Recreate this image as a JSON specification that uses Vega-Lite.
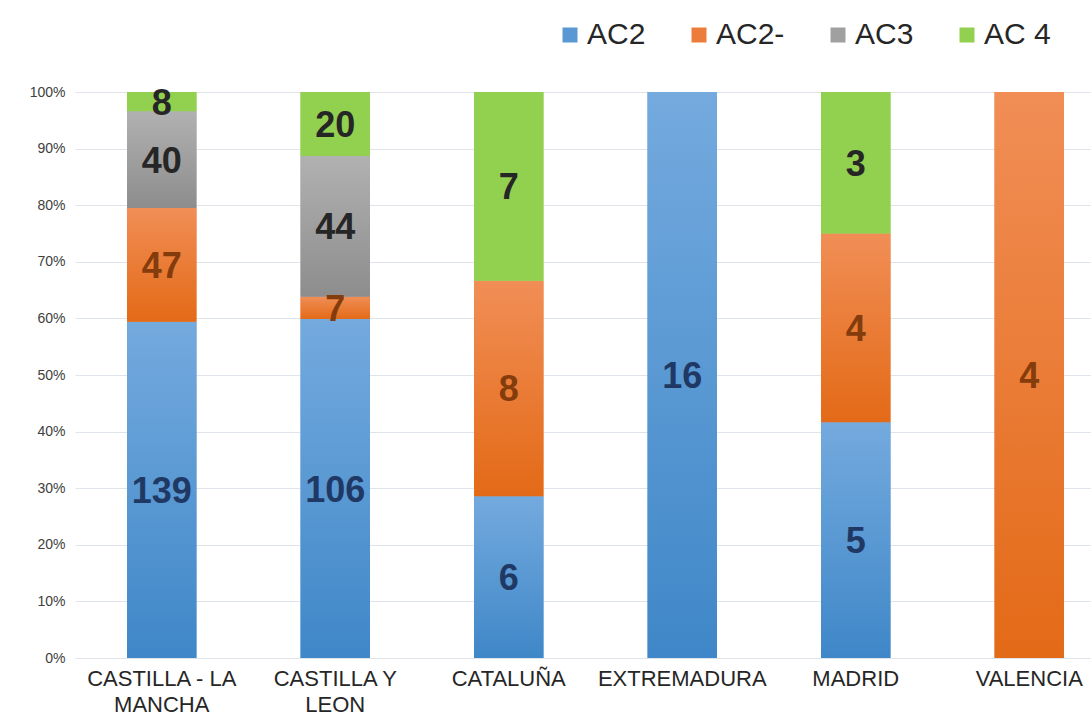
{
  "$schema": "https://vega.github.io/schema/vega-lite/v6.json",
  "autosize": {"type": "none"},
  "width": 1016,
  "height": 566,
  "padding": {"left": 75, "top": 92, "right": 0, "bottom": 70},
  "background": "white",
  "config": {
    "view": {"stroke": null},
    "font": "Liberation Sans"
  },
  "data": {
    "values": [
      {"region": "CASTILLA - LA MANCHA", "series": "AC2", "k": 1, "n": 139},
      {"region": "CASTILLA - LA MANCHA", "series": "AC2-", "k": 2, "n": 47},
      {"region": "CASTILLA - LA MANCHA", "series": "AC3", "k": 3, "n": 40},
      {"region": "CASTILLA - LA MANCHA", "series": "AC 4", "k": 4, "n": 8},
      {"region": "CASTILLA Y LEON", "series": "AC2", "k": 1, "n": 106},
      {"region": "CASTILLA Y LEON", "series": "AC2-", "k": 2, "n": 7},
      {"region": "CASTILLA Y LEON", "series": "AC3", "k": 3, "n": 44},
      {"region": "CASTILLA Y LEON", "series": "AC 4", "k": 4, "n": 20},
      {"region": "CATALUÑA", "series": "AC2", "k": 1, "n": 6},
      {"region": "CATALUÑA", "series": "AC2-", "k": 2, "n": 8},
      {"region": "CATALUÑA", "series": "AC 4", "k": 4, "n": 7},
      {"region": "EXTREMADURA", "series": "AC2", "k": 1, "n": 16},
      {"region": "MADRID", "series": "AC2", "k": 1, "n": 5},
      {"region": "MADRID", "series": "AC2-", "k": 2, "n": 4},
      {"region": "MADRID", "series": "AC 4", "k": 4, "n": 3},
      {"region": "VALENCIA", "series": "AC2-", "k": 2, "n": 4}
    ]
  },
  "encoding": {
    "x": {
      "field": "region",
      "type": "nominal",
      "sort": null,
      "scale": {"range": [0, 1041], "paddingInner": 0.6, "paddingOuter": 0.3},
      "axis": {
        "title": null,
        "domain": false,
        "ticks": false,
        "labelAngle": 0,
        "labelFontSize": 22,
        "labelColor": "#262626",
        "labelPadding": 10,
        "labelBaseline": "top",
        "labelLineHeight": 26,
        "labelLimit": 300,
        "labelExpr": "datum.label == 'CASTILLA - LA MANCHA' ? ['CASTILLA - LA', 'MANCHA'] : datum.label == 'CASTILLA Y LEON' ? ['CASTILLA Y', 'LEON'] : datum.label"
      }
    },
    "y": {
      "field": "n",
      "type": "quantitative",
      "stack": "normalize",
      "axis": {
        "title": null,
        "format": ".0%",
        "values": [0, 0.1, 0.2, 0.3, 0.4, 0.5, 0.6, 0.7, 0.8, 0.9, 1],
        "domain": false,
        "ticks": false,
        "labelFontSize": 14,
        "labelColor": "#404040",
        "labelPadding": 10,
        "gridColor": "#dfe4ea",
        "gridWidth": 1.2
      }
    },
    "order": {"field": "k", "type": "quantitative"}
  },
  "layer": [
    {
      "mark": {"type": "bar"},
      "encoding": {
        "color": {
          "field": "series",
          "type": "nominal",
          "scale": {
            "domain": ["AC2", "AC2-", "AC3", "AC 4"],
            "range": ["#5a98d3", "#ec7c3a", "#a0a0a0", "#92d050"]
          },
          "legend": {
            "title": null,
            "orient": "none",
            "direction": "horizontal",
            "legendX": 480,
            "legendY": -72,
            "symbolType": "square",
            "symbolSize": 225,
            "symbolStrokeWidth": 0,
            "symbolOpacity": 1,
            "labelFontSize": 30,
            "labelColor": "#262626",
            "labelOffset": 2,
            "columnPadding": 38,
            "labelLimit": 200
          }
        }
      }
    },
    {
      "mark": {"type": "bar"},
      "encoding": {
        "detail": {"field": "series", "type": "nominal"},
        "fill": {
          "condition": [
            {"test": "datum.series == 'AC2'", "value": {"gradient": "linear", "x1": 0, "y1": 0, "x2": 0, "y2": 1, "stops": [{"offset": 0, "color": "#74aade"}, {"offset": 1, "color": "#3f87c8"}]}},
            {"test": "datum.series == 'AC2-'", "value": {"gradient": "linear", "x1": 0, "y1": 0, "x2": 0, "y2": 1, "stops": [{"offset": 0, "color": "#f18e56"}, {"offset": 1, "color": "#e36a17"}]}},
            {"test": "datum.series == 'AC3'", "value": {"gradient": "linear", "x1": 0, "y1": 0, "x2": 0, "y2": 1, "stops": [{"offset": 0, "color": "#b1b1b1"}, {"offset": 1, "color": "#8d8d8d"}]}}
          ],
          "value": "#92d050"
        }
      }
    },
    {
      "mark": {"type": "text", "fontSize": 36, "fontWeight": "bold", "baseline": "middle", "align": "center", "dy": 2},
      "encoding": {
        "y": {"field": "n", "type": "quantitative", "stack": "normalize", "bandPosition": 0.5},
        "text": {"field": "n", "type": "quantitative"},
        "color": {
          "field": "series",
          "type": "nominal",
          "scale": {"domain": ["AC2", "AC2-", "AC3", "AC 4"], "range": ["#1f3864", "#843c0c", "#262626", "#262626"]},
          "legend": null
        }
      }
    }
  ],
  "resolve": {"scale": {"color": "independent"}}
}
